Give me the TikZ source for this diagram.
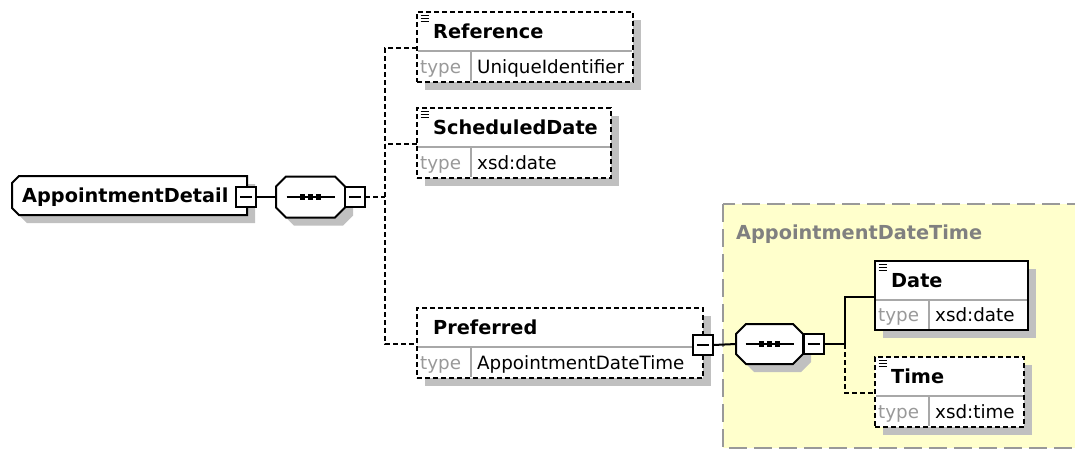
\documentclass[tikz,border=0pt]{standalone}
\usepackage{fontspec}
\setmainfont{DejaVu Sans}
\usetikzlibrary{calc}
\definecolor{shadowc}{HTML}{C0C0C0}
\definecolor{yel}{HTML}{FFFFCC}
\definecolor{sepgray}{HTML}{A8A8A8}
\definecolor{typegray}{HTML}{999999}
\definecolor{borgray}{HTML}{999999}
\definecolor{titlegray}{HTML}{808080}
\tikzset{
  ln/.style={line width=2pt, draw=black},
  dsh/.style={dash pattern=on 5pt off 3pt},
  elbox/.style={rectangle, inner sep=0pt, outer sep=0pt, fill=white, ln},
  nametext/.style={anchor=base west, inner sep=0pt, font=\fontsize{19.3}{22}\selectfont\bfseries},
  typelabel/.style={anchor=base west, inner sep=0pt, text=typegray, font=\fontsize{18.3}{20}\selectfont},
  typetext/.style={anchor=base west, inner sep=0pt, font=\fontsize{18.3}{20}\selectfont},
  minusbox/.style={rectangle, draw, line width=2pt, fill=white, minimum size=20pt, inner sep=0pt, outer sep=0pt},
  conn/.style={line width=2pt},
  conndash/.style={conn, dsh},
  sepline/.style={draw=sepgray, line width=1.2pt},
  shd/.style={fill=shadowc},
  ghost/.style={rectangle, inner sep=0pt, outer sep=0pt, draw=none},
}
% element box: name, left, top, right, bottom, border style, title, type
\newcommand\xel[8]{%
  \pgfmathsetmacro\xw{#4-#2}%
  \pgfmathsetmacro\xh{#5-#3}%
  \pgfmathsetmacro\xcx{(#2+#4)/2}%
  \pgfmathsetmacro\xcy{(#3+#5)/2}%
  \pgfmathsetmacro\xtb{(#3+39+#5)/2+6.5}%
  \fill[shd] (#2+8,#3+8) rectangle (#4+8,#5+8);
  \node[elbox,#6,minimum width=\xw pt,minimum height=\xh pt] (#1) at (\xcx,\xcy) {};
  \draw[sepline] (#2+1,#3+39) -- (#4-1,#3+39);
  \draw[sepline] (#2+54,#3+39) -- (#2+54,#5-1);
  \node[nametext] (#1-n) at (#2+16,#3+26.5) {#7};
  \node[typelabel] (#1-l) at (#2+3,\xtb) {type};
  \node[typetext] (#1-v) at (#2+60,\xtb) {#8};
  \coordinate (#1-c) at (#2,#3+36);
}
\newcommand\xicon[2]{%
  \foreach \d in {3.5,6.5,9.5} \draw[line width=1.2pt] (#1+3.5,#2+\d) -- (#1+12,#2+\d);
}
% octagon path: cx, cy, half width, half height, chamfer
\newcommand\octa[5]{(#1-#3+#5,#2-#4) -- (#1+#3-#5,#2-#4) -- (#1+#3,#2-#4+#5) -- (#1+#3,#2+#4-#5) -- (#1+#3-#5,#2+#4) -- (#1-#3+#5,#2+#4) -- (#1-#3,#2+#4-#5) -- (#1-#3,#2-#4+#5) -- cycle}
% sequence compositor: name, cx, cy, half width, half height
\newcommand\xseq[5]{%
  \begin{scope}[shift={(8,8)}]\fill[shd] \octa{#2}{#3}{#4}{#5}{10};\end{scope}
  \filldraw[fill=white, ln] \octa{#2}{#3}{#4}{#5}{10};
  \pgfmathsetmacro\xw{2*#4}%
  \pgfmathsetmacro\xh{2*#5}%
  \node[ghost, minimum width=\xw pt, minimum height=\xh pt] (#1) at (#2,#3) {};
  \draw[line width=2pt] (#2-24,#3) -- (#2+24,#3);
  \foreach \d in {-8,0,8} \fill (#2+\d-2.7,#3-2.7) rectangle (#2+\d+2.7,#3+2.7);
}
\newcommand\xminus[3]{%
  \node[minusbox] (#1) at (#2,#3) {};
  \draw[line width=1.4pt] (#2-6,#3) -- (#2+6,#3);
}
\begin{document}
\begin{tikzpicture}[x=1pt,y=-1pt]
\useasboundingbox (0,0) rectangle (1075,451);
\fill[white] (0,0) rectangle (1075,451);
% complex type region
\draw[fill=yel, draw=borgray, line width=1.8pt, dash pattern=on 18pt off 7pt] (723,204) rectangle (1085,448);
\node[anchor=base west, inner sep=0pt, text=titlegray, font=\fontsize{19.3}{22}\selectfont\bfseries] (cttitle) at (736,239) {AppointmentDateTime};

% root element
\begin{scope}[shift={(8,8)}]
  \fill[shd] (19,176) -- (247,176) -- (247,215) -- (19,215) -- (12,208) -- (12,183) -- cycle;
\end{scope}
\filldraw[fill=white, ln] (19,176) -- (247,176) -- (247,215) -- (19,215) -- (12,208) -- (12,183) -- cycle;
\node[ghost, minimum width=235pt, minimum height=39pt] (appdet) at (129.5,195.5) {};
\node[nametext] (appdet-n) at (22,202.5) {AppointmentDetail};
\xminus{appdet-m}{246}{197}

% first sequence
\xseq{seq1}{310.5}{197}{34.5}{20.5}
\xminus{seq1-m}{355}{197}

% children
\xel{ref}{417}{12}{633}{82}{dsh}{Reference}{UniqueIdentifier}
\xicon{417}{12}
\xel{sched}{417}{108}{611}{178}{dsh}{ScheduledDate}{xsd:date}
\xicon{417}{108}
\xel{pref}{417}{308}{703}{378}{dsh}{Preferred}{AppointmentDateTime}
\xminus{pref-m}{703}{345}

% second sequence
\xseq{seq2}{769.5}{344}{33.5}{20}
\xminus{seq2-m}{813.5}{344}

\xel{date}{875}{261}{1028}{330}{solid}{Date}{xsd:date}
\xicon{875}{261}
\xel{time}{875}{357}{1024}{427}{dsh}{Time}{xsd:time}
\xicon{875}{357}

% connectors
\draw[conn] (appdet-m.east) -- (seq1.west);
\coordinate (s1) at (385,197);
\draw[conndash] (seq1-m.east) -- (s1);
\draw[conndash] (ref-c) -| (s1) |- (pref-c);
\draw[conndash] (sched-c) -- (sched-c -| s1);
\draw[conn] (pref-m.east) -- (seq2.west);
\coordinate (s2) at (845,344);
\draw[conn] (seq2-m.east) -- (s2) |- (date-c);
\draw[conndash] (s2) |- (time-c);
\end{tikzpicture}
\end{document}
